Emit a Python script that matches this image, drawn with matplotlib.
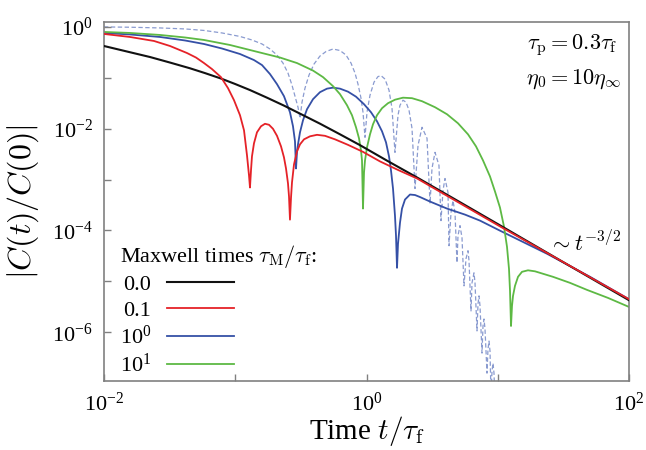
import matplotlib
matplotlib.use('Agg')
import matplotlib.pyplot as plt
from matplotlib.ticker import FixedLocator, FixedFormatter, NullLocator

plt.rcParams['font.family'] = 'serif'
plt.rcParams['font.serif'] = ['Liberation Serif', 'DejaVu Serif']
plt.rcParams['mathtext.fontset'] = 'cm'

# values (t / tau_f, |C(t)/C(0)|)
t_black = [0.01, 0.01497, 0.02244, 0.03184, 0.0452, 0.05881, 0.0778, 0.09956, 0.1295, 0.1745,
           0.2351, 0.3226, 0.4422, 0.6283, 0.8923, 1.458, 2.426, 4.978, 10.40, 29.81, 100]
c_black = [0.4218, 0.3287, 0.2560, 0.1994, 0.1539, 0.1238, 0.09687, 0.07579, 0.05745, 0.04069,
           0.02842, 0.01888, 0.01255, 0.007752, 0.004748, 0.002296, 0.001100, 3.784e-4, 1.261e-4,
           2.596e-5, 4.258e-6]

t_red = [0.01, 0.01578, 0.02404, 0.03184, 0.04288, 0.05023, 0.05779, 0.06651, 0.0778, 0.08808,
         0.09784, 0.1087, 0.1166, 0.1229, 0.1273, 0.1295, 0.1318, 0.1341, 0.1389, 0.1464,
         0.1571, 0.1685, 0.1808, 0.1939, 0.2080, 0.2232, 0.2351, 0.2436, 0.2523, 0.2568,
         0.2612, 0.2660, 0.2706, 0.2803, 0.2954, 0.3114, 0.3341, 0.3711, 0.4197, 0.4830,
         0.5754, 0.7228, 0.9404, 1.2674, 1.738, 2.426, 10.40, 100]
c_red = [0.7278, 0.6349, 0.5296, 0.4218, 0.3071, 0.2503, 0.1950, 0.1484, 0.1032, 0.06262,
         0.03632, 0.01838, 0.009298, 0.002987, 0.001205, 6.987e-4, 0.001512, 0.002855, 0.005152,
         0.008492, 0.01115, 0.01249, 0.01194, 0.009954, 0.007244, 0.004496, 0.002729, 0.001655,
         8.377e-4, 4.642e-4, 1.633e-4, 4.436e-4, 8.766e-4, 0.001985, 0.003583, 0.004925, 0.006178,
         0.007082, 0.007580, 0.007244, 0.006178, 0.004813, 0.003503, 0.002275, 0.001546, 0.001051,
         1.20e-4, 4.457e-6]

t_blue = [0.01, 0.01578, 0.02671, 0.04141, 0.05779, 0.07925, 0.1087, 0.1389, 0.1599, 0.1840,
          0.2080, 0.2351, 0.2612, 0.2754, 0.2852, 0.2904, 0.2954, 0.3007, 0.3114, 0.3283,
          0.3521, 0.3912, 0.4422, 0.5000, 0.5556, 0.6283, 0.7228, 0.8318, 0.9572, 1.082,
          1.202, 1.313, 1.408, 1.484, 1.537, 1.592, 1.648, 1.678, 1.708, 1.738,
          1.800, 1.864, 1.965, 2.145, 2.342, 2.557, 3.046, 4.105, 5.629, 7.325,
          10.40, 23.72, 50.47, 100]
c_blue = [0.7614, 0.7111, 0.6349, 0.5418, 0.4622, 0.3766, 0.2935, 0.2234, 0.1780, 0.1183,
          0.07511, 0.04355, 0.02106, 0.01115, 0.005643, 0.001655, 0.003424, 0.004925, 0.008492,
          0.01464, 0.02413, 0.03801, 0.05222, 0.06124, 0.06407, 0.06124, 0.05342, 0.04257,
          0.03029, 0.02106, 0.01400, 0.008886, 0.005392, 0.002855, 0.001512, 6.675e-4, 1.957e-4,
          7.897e-5, 1.846e-5, 5.490e-5, 1.425e-4, 2.692e-4, 4.050e-4, 5.084e-4, 4.970e-4,
          4.537e-4, 3.698e-4, 2.692e-4, 2.049e-4, 1.561e-4, 9.911e-5, 3.487e-5, 1.227e-5, 4.457e-6]

t_green = [0.01, 0.01578, 0.02671, 0.04141, 0.05779, 0.09120, 0.1389, 0.2193, 0.2954, 0.3912,
           0.4663, 0.5556, 0.6283, 0.7102, 0.7753, 0.8318, 0.8768, 0.9080, 0.9241, 0.9404,
           0.9572, 0.9741, 1.0088, 1.0634, 1.1208, 1.202, 1.313, 1.458, 1.649, 1.897,
           2.222, 2.648, 3.326, 4.105, 4.978, 5.934, 6.828, 7.720, 8.730, 9.528,
           10.40, 11.16, 11.76, 12.18, 12.40, 12.62, 12.84, 13.07, 13.53, 14.27,
           15.30, 17.00, 19.22, 26.36, 35.52, 47.86, 69.18, 100]
c_green = [0.7968, 0.7614, 0.6955, 0.6206, 0.5541, 0.4416, 0.3362, 0.2503, 0.1950, 0.1387,
           0.1032, 0.06861, 0.04771, 0.02893, 0.01838, 0.01066, 0.006466, 0.003750, 0.002381,
           2.692e-4, 0.001380, 0.002381, 0.004296, 0.007752, 0.01221, 0.01838, 0.02526, 0.03170,
           0.03715, 0.04069, 0.03978, 0.03470, 0.02643, 0.01923, 0.01278, 0.007752, 0.004496,
           0.002381, 0.001151, 5.825e-4, 2.817e-4, 1.189e-4, 4.792e-5, 1.764e-5, 6.497e-6,
           1.326e-6, 3.287e-6, 5.176e-6, 8.152e-6, 1.227e-5, 1.539e-5, 1.648e-5, 1.574e-5,
           1.227e-5, 9.341e-6, 6.795e-6, 4.726e-6, 3.141e-6]

t_dash = [0.01, 0.01578, 0.02671, 0.04141, 0.05779, 0.07925, 0.1087, 0.1341, 0.1599, 0.1840,
          0.2080, 0.2310, 0.2523, 0.2706, 0.2852, 0.3007, 0.3114, 0.3226, 0.3399, 0.3647,
          0.3981, 0.4422, 0.4915, 0.5556, 0.6283, 0.6979, 0.7619, 0.8176, 0.8615, 0.9080,
          0.9404, 0.9741, 1.0088, 1.0634, 1.141, 1.223, 1.290, 1.384, 1.484, 1.564,
          1.648, 1.738, 1.800, 1.897, 2.000, 2.108, 2.222, 2.342,
          2.469, 2.649, 2.891, 3.048, 3.155, 3.327, 3.565, 3.694, 3.827,
          3.964, 4.178, 4.253, 4.404, 4.560, 4.723, 4.892, 4.978, 5.157, 5.341,
          5.532, 5.729, 5.934, 6.039, 6.255, 6.366, 6.592, 6.710, 6.949, 7.072,
          7.197, 7.325, 7.586, 7.720, 7.857, 7.996, 8.281, 8.427, 8.578, 8.730,
          8.884, 9.041, 9.201, 9.363, 9.528, 9.698, 9.870, 10.22]
c_dash = [1.0, 0.9865, 0.9556, 0.9133, 0.8531, 0.7614, 0.6496, 0.5541, 0.4622, 0.3683,
          0.2804, 0.1950, 0.1238, 0.07178, 0.04355, 0.02643, 0.01603, 0.03317, 0.06262, 0.1131,
          0.1863, 0.2679, 0.3287, 0.3683, 0.3440, 0.2804, 0.1950, 0.1238, 0.07511, 0.03978,
          0.02106, 0.006767, 0.02106, 0.04557, 0.08226, 0.1056, 0.1105, 0.09427, 0.05720, 0.02526,
          0.003424, 0.01838, 0.02893, 0.03632, 0.03317, 0.02306, 0.01018, 6.675e-4,
          0.00471, 0.01066, 0.00647, 3.38e-4, 0.00166, 0.00343, 0.00190, 1.56e-4, 6.10e-4,
          0.00105, 5.57e-4, 5.01e-5, 2.24e-4, 3.87e-4, 2.24e-4, 2.32e-5, 7.90e-5, 1.244e-4, 7.21e-5,
          8.15e-6, 2.78e-5, 4.00e-5, 2.54e-5, 2.62e-6, 9.33e-6, 1.47e-5, 9.33e-6, 1.06e-6, 3.60e-6,
          5.18e-6, 3.29e-6, 3.89e-7, 1.32e-6, 1.82e-6, 1.16e-6, 1.57e-7, 4.67e-7, 6.70e-7, 4.26e-7,
          5.5e-8, 1.72e-7, 2.47e-7, 1.57e-7, 4.4e-8, 6.92e-8, 8.7e-8, 4.4e-8]

legend_labels = ['0.0', '0.1', r'$\mathregular{10^0}$', r'$\mathregular{10^1}$']
xtick_vals = [1e-2, 1e-1, 1e0, 1e1, 1e2]
xtick_labels = [r'$\mathregular{10^{-2}}$', '', r'$\mathregular{10^{0}}$', '', r'$\mathregular{10^{2}}$']
ytick_vals = [1e0, 1e-1, 1e-2, 1e-3, 1e-4, 1e-5, 1e-6]
ytick_labels = [r'$\mathregular{10^{0}}$', '', r'$\mathregular{10^{-2}}$', '',
                r'$\mathregular{10^{-4}}$', '', r'$\mathregular{10^{-6}}$']

fig = plt.figure(figsize=(6.46, 4.5), dpi=100)
ax = fig.add_axes([104/646, 1-381/450, 525/646, 359/450])
ax.set_xscale('log')
ax.set_yscale('log')

ax.plot(t_dash, c_dash, color='#8a9bd0', lw=0.9, dashes=(3.5, 2), zorder=1)
l0, = ax.plot(t_black, c_black, color='#111111', lw=1.5, zorder=3)
l2, = ax.plot(t_blue, c_blue, color='#3550a6', lw=1.3, zorder=2)
l3, = ax.plot(t_green, c_green, color='#5db944', lw=1.3, zorder=2)
l1, = ax.plot(t_red, c_red, color='#e52228', lw=1.3, zorder=4)

ax.set_xlim(1e-2, 1e2)
ax.set_ylim(1.1e-7, 1.25)

ax.xaxis.set_major_locator(FixedLocator(xtick_vals))
ax.xaxis.set_major_formatter(FixedFormatter(xtick_labels))
ax.yaxis.set_major_locator(FixedLocator(ytick_vals))
ax.yaxis.set_major_formatter(FixedFormatter(ytick_labels))
ax.xaxis.set_minor_locator(NullLocator())
ax.yaxis.set_minor_locator(NullLocator())
ax.tick_params(direction='in', length=5, width=1, color='#808080', labelsize=16, pad=8)
for s in ax.spines.values():
    s.set_color('#808080')
    s.set_linewidth(1.2)

ax.set_xlabel(r'Time $t/\tau_{\rm f}$', fontsize=21)
ax.xaxis.set_label_coords(0.5, -0.093)
ax.set_ylabel(r'$|C(t)/C(0)|$', fontsize=23)
ax.yaxis.set_label_coords(-0.12, 0.5)

ax.text(0.979, 0.935, r'$\tau_{\rm p} = 0.3\tau_{\rm f}$', transform=ax.transAxes,
        ha='right', va='center', fontsize=16)
ax.text(0.985, 0.842, r'$\eta_0 = 10\eta_\infty$', transform=ax.transAxes,
        ha='right', va='center', fontsize=16)
ax.text(0.985, 0.384, r'$\sim t^{-3/2}$', transform=ax.transAxes,
        ha='right', va='center', fontsize=16)

ax.legend([l0, l1, l2, l3], legend_labels, loc='upper left', bbox_to_anchor=(0.03, 0.385),
          frameon=False, markerfirst=False, title=r'Maxwell times $\tau_{\rm M}/\tau_{\rm f}$:',
          alignment='left', fontsize=16, title_fontsize=16, handlelength=3.0,
          handletextpad=0.7, labelspacing=0.22, borderpad=0, borderaxespad=0)

fig.savefig('out.png', dpi=100)
